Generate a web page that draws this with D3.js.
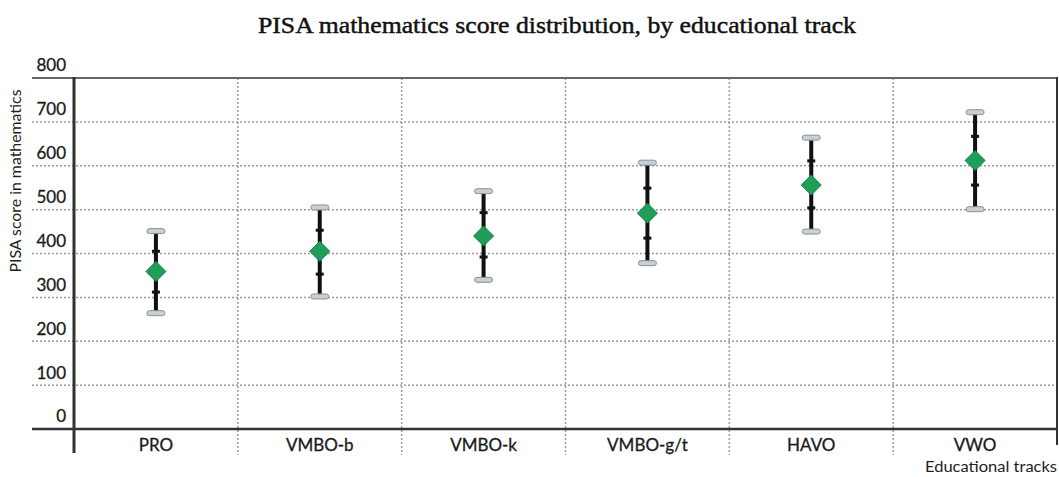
<!DOCTYPE html>
<html>
<head>
<meta charset="utf-8">
<script src="https://cdn.jsdelivr.net/npm/d3@7"></script>
<style>
  body { margin: 0; background: #fff; }
  svg { display: block; }
</style>
</head>
<body>
<div class="chart"></div>
<script>
const FRAME_WIDTH = 1059;
const FRAME_HEIGHT = 477;

// values
const TRACKS = ["PRO", "VMBO-b", "VMBO-k", "VMBO-g/t", "HAVO", "VWO"];
const LOW_CAP = [264, 302, 340, 378, 450, 501];
const LOW_TICK = [312, 353, 392, 435, 504, 556];
const MEANS = [359, 405, 440, 492, 556, 612];
const HIGH_TICK = [405, 453, 493, 549, 611, 667];
const HIGH_CAP = [451, 505, 542, 607, 664, 722];
const Y_TICKS = [0, 100, 200, 300, 400, 500, 600, 700, 800];

const PLOT = {left: 74, right: 1057, top: 78, bottom: 429};

const data = TRACKS.map((t, i) => ({
    track: t, lo: LOW_CAP[i], lt: LOW_TICK[i], mean: MEANS[i], ht: HIGH_TICK[i], hi: HIGH_CAP[i]
}));

const SVG = d3.select(".chart")
    .append("svg")
    .attr("width", FRAME_WIDTH)
    .attr("height", FRAME_HEIGHT);

const X_SCALE = d3.scaleBand()
    .domain(TRACKS)
    .range([PLOT.left, PLOT.right])
    .padding(0);

const Y_SCALE = d3.scaleLinear()
    .domain([0, 800])
    .range([PLOT.bottom, PLOT.top]);

// title
SVG.append("text")
    .attr("x", 557)
    .attr("y", 33)
    .attr("text-anchor", "middle")
    .attr("font-family", "Liberation Serif, Times New Roman, serif")
    .attr("font-size", 23)
    .attr("fill", "#111")
    .attr("stroke", "#111")
    .attr("stroke-width", 0.45)
    .attr("textLength", 598)
    .attr("lengthAdjust", "spacingAndGlyphs")
    .text("PISA mathematics score distribution, by educational track");

// horizontal dotted grid
SVG.append("g")
    .selectAll("line")
    .data(Y_TICKS.filter(v => v > 0 && v < 800))
    .enter()
    .append("line")
        .attr("x1", 32)
        .attr("x2", PLOT.right)
        .attr("y1", d => Y_SCALE(d))
        .attr("y2", d => Y_SCALE(d))
        .attr("stroke", "#9a9a9a")
        .attr("stroke-width", 1.5)
        .attr("stroke-dasharray", "2,2");

// vertical dotted separators between tracks
SVG.append("g")
    .selectAll("line")
    .data(TRACKS.slice(1))
    .enter()
    .append("line")
        .attr("x1", d => X_SCALE(d))
        .attr("x2", d => X_SCALE(d))
        .attr("y1", PLOT.top)
        .attr("y2", 455)
        .attr("stroke", "#9a9a9a")
        .attr("stroke-width", 1.5)
        .attr("stroke-dasharray", "2,2");

// top line (800)
SVG.append("line")
    .attr("x1", 32).attr("x2", PLOT.right)
    .attr("y1", Y_SCALE(800)).attr("y2", Y_SCALE(800))
    .attr("stroke", "#666")
    .attr("stroke-width", 2);

// right border
SVG.append("line")
    .attr("x1", PLOT.right).attr("x2", PLOT.right)
    .attr("y1", PLOT.top - 1).attr("y2", 445)
    .attr("stroke", "#333")
    .attr("stroke-width", 2);

// x axis line
SVG.append("line")
    .attr("x1", 32).attr("x2", PLOT.right)
    .attr("y1", Y_SCALE(0)).attr("y2", Y_SCALE(0))
    .attr("stroke", "#333")
    .attr("stroke-width", 2.5);

// y axis line
SVG.append("line")
    .attr("x1", PLOT.left).attr("x2", PLOT.left)
    .attr("y1", PLOT.top - 1).attr("y2", 453)
    .attr("stroke", "#333")
    .attr("stroke-width", 3);

// y tick labels, sitting just above their lines
const yAxis = SVG.append("g")
    .attr("transform", "translate(66,0)")
    .call(d3.axisLeft(Y_SCALE).tickValues(Y_TICKS).tickSize(0).tickPadding(0));
yAxis.select(".domain").remove();
yAxis.selectAll("text")
    .attr("font-family", "Lato, Open Sans, sans-serif")
    .attr("font-size", 17)
    .attr("fill", "#1a1a1a")
    .attr("stroke", "#1a1a1a")
    .attr("stroke-width", 0.3)
    .attr("dy", "-0.42em");

// x tick labels
const xAxis = SVG.append("g")
    .attr("transform", "translate(0," + Y_SCALE(0) + ")")
    .call(d3.axisBottom(X_SCALE).tickSize(0).tickPadding(10));
xAxis.select(".domain").remove();
xAxis.selectAll("text")
    .attr("font-family", "Lato, Open Sans, sans-serif")
    .attr("font-size", 17)
    .attr("fill", "#1a1a1a")
    .attr("stroke", "#1a1a1a")
    .attr("stroke-width", 0.3);

// axis titles
SVG.append("text")
    .attr("transform", "translate(21,181) rotate(-90)")
    .attr("text-anchor", "middle")
    .attr("font-family", "Lato, Open Sans, sans-serif")
    .attr("font-size", 14.5)
    .attr("fill", "#222")
    .attr("textLength", 183)
    .attr("lengthAdjust", "spacingAndGlyphs")
    .text("PISA score in mathematics");

SVG.append("text")
    .attr("x", PLOT.right)
    .attr("y", 472)
    .attr("text-anchor", "end")
    .attr("font-family", "Lato, Open Sans, sans-serif")
    .attr("font-size", 14.5)
    .attr("fill", "#222")
    .attr("textLength", 132)
    .attr("lengthAdjust", "spacingAndGlyphs")
    .text("Educational tracks");

// error bars
const bars = SVG.append("g")
    .selectAll("g")
    .data(data)
    .enter()
    .append("g")
        .attr("transform", d => "translate(" + (X_SCALE(d.track) + X_SCALE.bandwidth() / 2) + ",0)");

bars.append("line")
    .attr("x1", 0).attr("x2", 0)
    .attr("y1", d => Y_SCALE(d.lo))
    .attr("y2", d => Y_SCALE(d.hi))
    .attr("stroke", "#111")
    .attr("stroke-width", 4);

// SD ticks
bars.selectAll(".sd")
    .data(d => [d.lt, d.ht])
    .enter()
    .append("rect")
        .attr("class", "sd")
        .attr("x", -4)
        .attr("y", v => Y_SCALE(v) - 1.5)
        .attr("width", 8)
        .attr("height", 3)
        .attr("fill", "#111");

// caps
bars.selectAll(".cap")
    .data(d => [d.lo, d.hi])
    .enter()
    .append("rect")
        .attr("class", "cap")
        .attr("x", -9)
        .attr("y", v => Y_SCALE(v) - 2.5)
        .attr("width", 18)
        .attr("height", 5)
        .attr("rx", 2.5)
        .attr("fill", "#c8cfd5")
        .attr("stroke", "#8a9096")
        .attr("stroke-width", 1);

// mean diamonds
bars.append("path")
    .attr("d", d => {
        const y = Y_SCALE(d.mean);
        return "M0," + (y - 10) + "L10," + y + "L0," + (y + 10) + "L-10," + y + "Z";
    })
    .attr("fill", "#1f9e5a")
    .attr("stroke", "#178048")
    .attr("stroke-width", 1);
</script>
</body>
</html>
